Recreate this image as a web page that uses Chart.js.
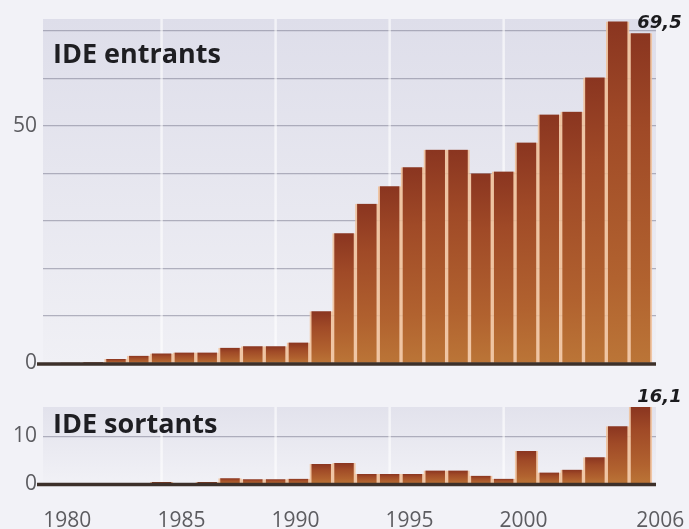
<!DOCTYPE html>
<html>
<head>
<meta charset="utf-8">
<script src="https://cdn.jsdelivr.net/npm/chart.js@4.4.1/dist/chart.umd.min.js"></script>
<style>
  html, body { margin: 0; padding: 0; width: 689px; height: 529px; overflow: hidden; background: #f2f2f7; }
  canvas { position: absolute; left: 0; }
  #inflowChart { top: 0; }
  #outflowChart { top: 380px; }
</style>
</head>
<body>
<canvas id="inflowChart" width="689" height="382"></canvas>
<canvas id="outflowChart" width="689" height="149"></canvas>
<script>
// Years covered by the series
const years = [1980, 1981, 1982, 1983, 1984, 1985, 1986, 1987, 1988, 1989,
               1990, 1991, 1992, 1993, 1994, 1995, 1996, 1997, 1998, 1999,
               2000, 2001, 2002, 2003, 2004, 2005];

// Inward FDI (IDE entrants)
const inflows = [0.2, 0.3, 0.9, 1.6, 2.1, 2.3, 2.3, 3.3, 3.6, 3.6,
                 4.4, 11.0, 27.4, 33.6, 37.3, 41.3, 45.0, 45.0, 40.0, 40.4,
                 46.5, 52.4, 53.0, 60.2, 72.0, 69.5];

// Outward FDI (IDE sortants)
const outflows = [0.0, 0.0, 0.0, 0.1, 0.4, 0.1, 0.4, 1.2, 1.0, 1.0,
                  1.1, 4.2, 4.4, 2.1, 2.1, 2.1, 2.8, 2.8, 1.7, 1.1,
                  6.9, 2.4, 3.0, 5.6, 12.1, 16.1];

// Axis labels
const xTickYears = [1980, 1985, 1990, 1995, 2000, 2006];
const inflowTickLabels = [0, 50];
const outflowTickLabels = [0, 10];
const guideYears = [1984, 1989, 1994, 1999];
const labelledYear = 2005;

const panelTitles = { inflow: 'IDE entrants', outflow: 'IDE sortants' };

const tickFont = { family: 'Open Sans', size: 21, lineHeight: 1.2 };
const tickColor = '#5c5c60';

function toPoints(values) {
  return years.map((yr, i) => ({ x: yr, y: values[i] }));
}

function barFill(ctx) {
  const chart = ctx.chart;
  const ys = chart.scales.y;
  const raw = ctx.raw;
  if (!chart.chartArea || !ys || !raw) return '#a9542b';
  const top = ys.getPixelForValue(raw.y);
  const base = ys.getPixelForValue(0);
  if (base - top < 2) return '#7a3a22';
  const g = chart.ctx.createLinearGradient(0, top, 0, base);
  g.addColorStop(0, '#8a3520');
  g.addColorStop(0.3, '#a04a27');
  g.addColorStop(0.75, '#b1622f');
  g.addColorStop(1, '#bb7537');
  return g;
}

// Panel background, guide lines, baseline, title and end value label
const panelDecor = {
  id: 'panelDecor',
  beforeDraw(chart, args, opts) {
    const { ctx, chartArea: a } = chart;
    ctx.save();
    const g = ctx.createLinearGradient(0, a.top, 0, a.bottom);
    g.addColorStop(0, opts.bgTop);
    g.addColorStop(1, opts.bgBottom);
    ctx.fillStyle = g;
    ctx.fillRect(a.left, a.top, a.right - a.left, a.bottom - a.top);
    ctx.restore();
  },
  beforeDatasetsDraw(chart) {
    const { ctx, chartArea: a } = chart;
    const xs = chart.scales.x;
    ctx.save();
    ctx.strokeStyle = 'rgba(255,255,255,0.6)';
    ctx.lineWidth = 2.5;
    guideYears.forEach(yr => {
      const px = xs.getPixelForValue(yr);
      ctx.beginPath();
      ctx.moveTo(px, a.top);
      ctx.lineTo(px, a.bottom);
      ctx.stroke();
    });
    ctx.restore();
  },
  afterDatasetsDraw(chart, args, opts) {
    const { ctx, chartArea: a } = chart;
    const xs = chart.scales.x, ys = chart.scales.y;
    ctx.save();
    // baseline
    const by = ys.getPixelForValue(0) + 0.5;
    ctx.strokeStyle = '#3c302a';
    ctx.lineWidth = 3.5;
    ctx.beginPath();
    ctx.moveTo(a.left - 6, by);
    ctx.lineTo(a.right, by);
    ctx.stroke();
    // panel title
    ctx.fillStyle = '#1e1e22';
    ctx.font = 'bold 27px "Open Sans"';
    ctx.textAlign = 'left';
    ctx.textBaseline = 'alphabetic';
    ctx.fillText(opts.title, a.left + 10, a.top + opts.titleDrop);
    // value label on the last bar
    const values = chart.data.datasets[0].data;
    const pt = values.find(p => p.x === labelledYear);
    if (pt) {
      ctx.font = 'italic bold 18px "DejaVu Sans"';
      ctx.textAlign = 'center';
      ctx.fillStyle = '#1b1b1e';
      const text = pt.y.toFixed(1).replace('.', ',');
      ctx.fillText(text, xs.getPixelForValue(pt.x) + 19, ys.getPixelForValue(pt.y) - 5);
    }
    ctx.restore();
  }
};

function xScale(show) {
  return {
    type: 'linear',
    min: 1978.8,
    max: 2005.68,
    offset: false,
    display: show,
    grid: { display: false, drawTicks: false, offset: false },
    border: { display: false },
    afterBuildTicks: s => { s.ticks = xTickYears.map(v => ({ value: v })); },
    afterFit: s => {
      s.paddingLeft = 0;
      s.paddingRight = 0;
      s.height = show ? 45 : 0;
    },
    ticks: {
      font: tickFont,
      color: tickColor,
      padding: 24,
      labelOffset: -3,
      maxRotation: 0,
      autoSkip: false,
      callback: v => String(v)
    }
  };
}

function yScale(max, labelled) {
  return {
    min: 0,
    max: max,
    afterFit: s => { s.width = 30; },
    border: { display: false },
    grid: {
      color: c => (c.tick && c.tick.value === 0) ? 'transparent' : 'rgba(125,125,145,0.55)',
      lineWidth: 1.3,
      drawTicks: false
    },
    ticks: {
      stepSize: 10,
      includeBounds: false,
      padding: 6,
      font: tickFont,
      color: tickColor,
      callback: v => labelled.includes(v) ? String(v) : ''
    }
  };
}

function barDataset(values) {
  return {
    data: toPoints(values),
    backgroundColor: barFill,
    borderColor: 'rgba(240,190,150,0.85)',
    borderWidth: { left: 2, right: 2, top: 0, bottom: 0 },
    borderSkipped: false,
    barPercentage: 1.0,
    categoryPercentage: 1.0
  };
}

const common = {
  responsive: false,
  animation: false,
  events: [],
  plugins: { legend: { display: false }, tooltip: { enabled: false } }
};

new Chart(document.getElementById('inflowChart'), {
  type: 'bar',
  data: { datasets: [barDataset(inflows)] },
  options: {
    ...common,
    layout: { padding: { left: 13, right: 33, top: 19, bottom: 13 } },
    scales: { x: xScale(false), y: yScale(72.5, inflowTickLabels) },
    plugins: {
      ...common.plugins,
      panelDecor: { title: panelTitles.inflow, titleDrop: 44, bgTop: '#dedeea', bgBottom: '#f0f0f5' }
    }
  },
  plugins: [panelDecor]
});

new Chart(document.getElementById('outflowChart'), {
  type: 'bar',
  data: { datasets: [barDataset(outflows)] },
  options: {
    ...common,
    layout: { padding: { left: 13, right: 33, top: 27, bottom: 0 } },
    scales: { x: xScale(true), y: yScale(16.1, outflowTickLabels) },
    plugins: {
      ...common.plugins,
      panelDecor: { title: panelTitles.outflow, titleDrop: 26, bgTop: '#e2e2ec', bgBottom: '#f1f1f6' }
    }
  },
  plugins: [panelDecor]
});
</script>
</body>
</html>
